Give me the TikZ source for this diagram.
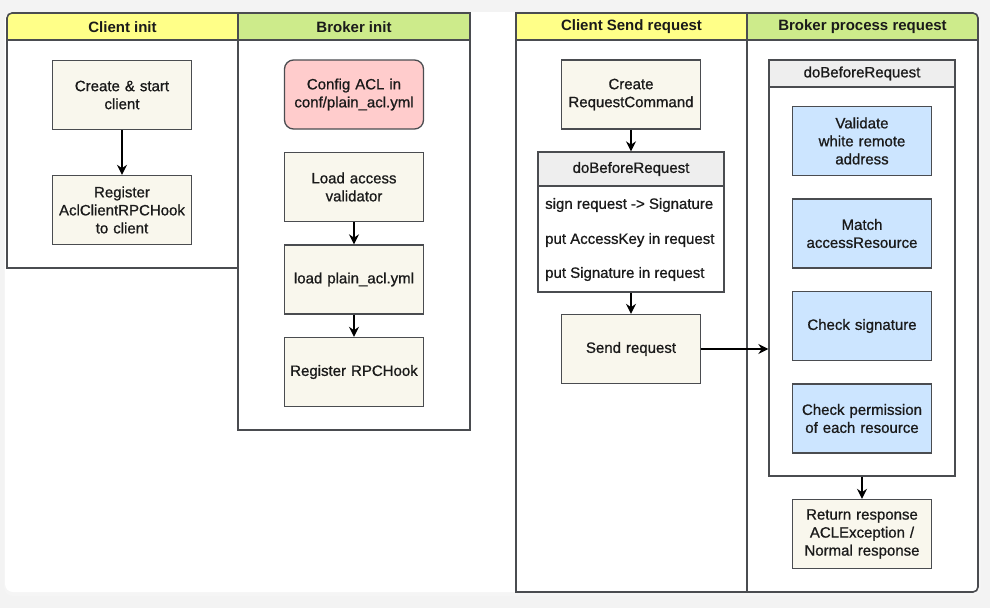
\documentclass[tikz,border=0pt]{standalone}
\usepackage{fontspec}
\setmainfont{Liberation Sans}[UprightFeatures={FakeBold=0.8}]
\usetikzlibrary{arrows.meta}
\definecolor{hdryellow}{HTML}{FFFF88}
\definecolor{hdrgreen}{HTML}{CDEB8B}
\definecolor{procfill}{HTML}{F9F7ED}
\definecolor{pinkfill}{HTML}{FFCCCC}
\definecolor{bluefill}{HTML}{CCE5FF}
\definecolor{grpfill}{HTML}{EEEEEE}
\definecolor{edgegray}{HTML}{4A4C50}
\definecolor{pagegray}{HTML}{F3F3F3}
\definecolor{txtgray}{HTML}{1A1A1A}
\begin{document}
\begin{tikzpicture}[x=1pt, y=-1pt, >={Stealth[length=10pt,width=10pt]},
	every node/.style={font=\fontsize{15}{18}\selectfont, text=txtgray},
	lane/.style={draw=edgegray, line width=1.6pt},
	lanehdr/.style={font=\fontsize{15}{18}\selectfont\bfseries, inner sep=0pt},
	proc/.style={draw=edgegray, line width=1.3pt, fill=procfill, minimum width=139pt, minimum height=69pt, text width=137pt, inner sep=1pt, align=center},
	check/.style={proc, fill=bluefill},
	grp/.style={draw=edgegray, line width=1.3pt, minimum width=186pt, inner sep=0pt},
	grphdr/.style={draw=edgegray, line width=1.3pt, fill=grpfill, minimum width=186pt, inner sep=0pt},
	item/.style={anchor=west, inner sep=0pt},
	flow/.style={->, line width=1.5pt, black}]
	% page and card
	\fill[pagegray] (0,0) rectangle (990,608);
	\fill[black!4, rounded corners=9pt] (4,14) rectangle (981,596);
	\fill[white, rounded corners=8pt] (5,12) rectangle (978,592);

	% left pool
	\fill[hdryellow] (7,40) -- (7,18) arc[start angle=180, end angle=270, radius=5] -- (238,13) -- (238,40) -- cycle;
	\fill[hdrgreen] (238,13) rectangle (470,40);
	\draw[lane] (7,268) -- (7,18) arc[start angle=180, end angle=270, radius=5] -- (470,13) -- (470,430) -- (238,430) -- (238,268) -- cycle;
	\draw[lane] (238,13) -- (238,268) (7,40) -- (470,40);
	\node[lanehdr] (hclinit) at (122.5,27) {Client init};
	\node[lanehdr] (hbrinit) at (354,27) {Broker init};

	\node[proc] (cstart) at (122,95) {Create \& start\\client};
	\node[proc] (creg) at (122,210) {Register\\AclClientRPCHook\\to client};
	\draw[flow] (cstart) -- (creg);

	\node[proc, fill=pinkfill, rounded corners=9pt] (bcfg) at (354,94.5) {Config ACL in\\conf/plain\_acl.yml};
	\node[proc] (bload) at (354,187) {Load access\\validator};
	\node[proc] (byml) at (354,279.5) {load plain\_acl.yml};
	\node[proc] (bhook) at (354,372) {Register RPCHook};
	\draw[flow] (bload) -- (byml);
	\draw[flow] (byml) -- (bhook);

	% right pool
	\fill[hdryellow] (516,13) rectangle (747,40);
	\fill[hdrgreen] (747,40) -- (747,13) -- (973,13) arc[start angle=270, end angle=360, radius=5] -- (978,40) -- cycle;
	\draw[lane] (516,13) -- (973,13) arc[start angle=270, end angle=360, radius=5] -- (978,587) arc[start angle=0, end angle=90, radius=5] -- (516,592) -- cycle;
	\draw[lane] (747,13) -- (747,592) (516,40) -- (978,40);
	\node[lanehdr] (hclsend) at (631.5,27) {Client Send request};
	\node[lanehdr] (hbrproc) at (862.5,27) {Broker process request};

	\node[proc] (creq) at (631,94.5) {Create\\RequestCommand};
	\node[grp, minimum height=140pt] (cdbr) at (631,222) {};
	\node[grphdr, minimum height=34pt] (cdbrhdr) at (631,169) {doBeforeRequest};
	\node[item] (csign) at (545,205) {sign request -> Signature};
	\node[item] (ckey) at (545,240) {put AccessKey in request};
	\node[item] (csig) at (545,274) {put Signature in request};
	\node[proc] (csend) at (631,349) {Send request};
	\draw[flow] (creq) -- (cdbrhdr);
	\draw[flow] (cdbr) -- (csend);

	\node[grp, minimum height=416pt] (bdbr) at (862,268) {};
	\node[grphdr, minimum height=27pt] (bdbrhdr) at (862,73.5) {doBeforeRequest};
	\node[check] (bval) at (862,141) {Validate\\white remote\\address};
	\node[check] (bmatch) at (862,233.5) {Match\\accessResource};
	\node[check] (bsig) at (862,326) {Check signature};
	\node[check] (bperm) at (862,418.5) {Check permission\\of each resource};
	\node[proc] (bresp) at (862,534) {Return response\\ACLException /\\Normal response};
	\draw[flow] (csend) -- (csend -| bdbr.west);
	\draw[flow] (bdbr) -- (bresp);

	\useasboundingbox (0,0) rectangle (990,608);
\end{tikzpicture}
\end{document}
